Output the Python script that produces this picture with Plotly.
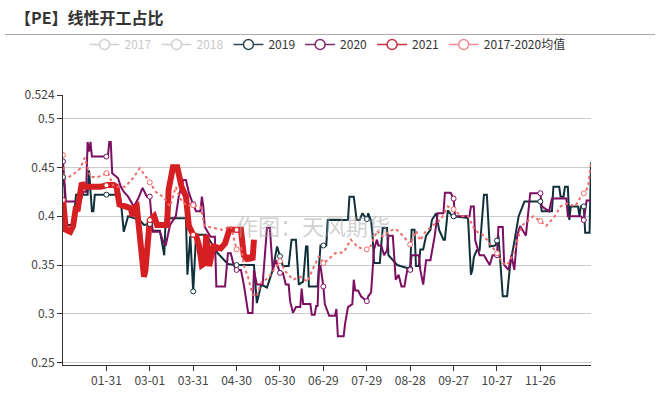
import numpy as np
import pandas as pd
import plotly.graph_objects as go

# ---- categories / ticks (leap-year calendar 01-01 .. 12-31) ----
BASE = pd.Timestamp("2020-01-01")
tick_labels = ["01-31", "03-01", "03-31", "04-30", "05-30", "06-29",
               "07-29", "08-28", "09-27", "10-27", "11-26"]
y_ticks = [0.25, 0.3, 0.35, 0.4, 0.45, 0.5, 0.524]
y_tick_text = ["0.25", "0.3", "0.35", "0.4", "0.45", "0.5", "0.524"]
marker_every = 30  # symbol shown every 30th category

# ---- series: day index (from 01-01) and value ----
day_2019 = [0, 1, 2, 7, 9, 17, 18, 20, 21, 22,
            39, 40, 42, 45, 53, 56, 60, 62, 67, 70,
            71, 85, 86, 88, 90, 92, 99, 102, 107, 114,
            119, 132, 134, 137, 141, 145, 148, 152, 156, 158,
            161, 163, 166, 168, 169, 170, 176, 178, 182, 183,
            197, 198, 201, 203, 205, 207, 210, 211, 213, 214,
            215, 219, 221, 224, 225, 228, 231, 240, 241, 243,
            244, 246, 247, 249, 251, 254, 255, 258, 260, 263,
            264, 266, 269, 280, 282, 283, 284, 286, 288, 291,
            293, 295, 299, 301, 304, 307, 309, 312, 315, 319,
            330, 331, 338, 339, 343, 344, 346, 347, 349, 350,
            351, 356, 357, 358, 360, 361, 364, 365]
val_2019 = [0.440, 0.430, 0.391, 0.391, 0.422, 0.422, 0.447, 0.405, 0.405, 0.422,
            0.422, 0.415, 0.384, 0.400, 0.396, 0.391, 0.392, 0.385, 0.385, 0.360,
            0.398, 0.398, 0.340, 0.380, 0.323, 0.381, 0.381, 0.374, 0.362, 0.351,
            0.350, 0.350, 0.311, 0.330, 0.327, 0.345, 0.369, 0.349, 0.349, 0.376,
            0.376, 0.330, 0.333, 0.369, 0.369, 0.328, 0.328, 0.370, 0.370, 0.396,
            0.396, 0.420, 0.420, 0.396, 0.396, 0.403, 0.397, 0.403, 0.395, 0.381,
            0.352, 0.352, 0.388, 0.388, 0.360, 0.355, 0.350, 0.346, 0.386, 0.386,
            0.349, 0.349, 0.366, 0.366, 0.380, 0.386, 0.396, 0.403, 0.386, 0.376,
            0.376, 0.406, 0.400, 0.398, 0.340, 0.345, 0.358, 0.365, 0.365, 0.422,
            0.422, 0.369, 0.370, 0.380, 0.318, 0.318, 0.349, 0.374, 0.400, 0.415,
            0.415, 0.405, 0.405, 0.430, 0.430, 0.420, 0.420, 0.430, 0.430, 0.396,
            0.410, 0.410, 0.400, 0.410, 0.410, 0.383, 0.383, 0.455]

day_2020 = [0, 1, 2, 12, 14, 16, 17, 18, 19, 20,
            31, 32, 33, 34, 38, 40, 42, 45, 49, 52,
            55, 58, 60, 62, 67, 69, 71, 74, 78, 80,
            83, 85, 87, 89, 92, 95, 96, 97, 98, 102,
            105, 106, 112, 114, 116, 118, 120, 123, 125, 128,
            131, 132, 134, 138, 141, 143, 145, 147, 150, 152,
            154, 156, 157, 159, 161, 164, 165, 166, 171, 172,
            174, 175, 176, 177, 178, 180, 181, 184, 188, 189,
            190, 194, 195, 197, 200, 201, 202, 204, 206, 210,
            211, 213, 215, 217, 218, 220, 222, 224, 225, 228,
            230, 232, 234, 236, 238, 240, 241, 246, 247, 249,
            251, 254, 257, 259, 263, 264, 268, 270, 271, 281,
            282, 284, 285, 288, 291, 293, 295, 297, 300, 301,
            304, 305, 308, 310, 312, 314, 316, 320, 322, 323,
            330, 331, 336, 338, 348, 349, 358, 360, 362, 365]
val_2020 = [0.456, 0.430, 0.415, 0.415, 0.425, 0.425, 0.476, 0.466, 0.476, 0.461,
            0.461, 0.476, 0.476, 0.444, 0.439, 0.430, 0.425, 0.420, 0.410, 0.418,
            0.429, 0.420, 0.420, 0.384, 0.384, 0.375, 0.370, 0.391, 0.400, 0.420,
            0.437, 0.437, 0.424, 0.416, 0.405, 0.405, 0.420, 0.410, 0.389, 0.379,
            0.379, 0.328, 0.328, 0.362, 0.362, 0.350, 0.345, 0.345, 0.330, 0.301,
            0.301, 0.345, 0.330, 0.330, 0.388, 0.388, 0.345, 0.355, 0.342, 0.342,
            0.330, 0.330, 0.313, 0.301, 0.307, 0.307, 0.326, 0.310, 0.310, 0.299,
            0.299, 0.308, 0.308, 0.349, 0.349, 0.328, 0.310, 0.298, 0.298, 0.305,
            0.277, 0.277, 0.290, 0.307, 0.310, 0.335, 0.324, 0.324, 0.318, 0.313,
            0.318, 0.322, 0.366, 0.376, 0.370, 0.370, 0.360, 0.365, 0.380, 0.380,
            0.335, 0.340, 0.328, 0.328, 0.345, 0.345, 0.360, 0.360, 0.345, 0.330,
            0.355, 0.355, 0.380, 0.403, 0.403, 0.424, 0.424, 0.418, 0.400, 0.400,
            0.410, 0.410, 0.375, 0.360, 0.360, 0.355, 0.350, 0.360, 0.360, 0.389,
            0.389, 0.350, 0.345, 0.360, 0.345, 0.380, 0.390, 0.380, 0.410, 0.4235,
            0.4235, 0.410, 0.405, 0.418, 0.418, 0.400, 0.400, 0.396, 0.416, 0.416]

day_2021 = [0, 1, 2, 5, 7, 9, 10, 11, 13, 15,
            26, 31, 35, 37, 39, 43, 47, 48, 49, 51,
            54, 56, 57, 59, 60, 63, 65, 72, 73, 76,
            79, 82, 85, 87, 90, 92, 94, 96, 98, 99,
            101, 104, 109, 112, 115, 123, 125, 128, 129, 131,
            132]
val_2021 = [0.4166, 0.400, 0.386, 0.384, 0.390, 0.410, 0.405, 0.415, 0.434, 0.430,
            0.430, 0.432, 0.432, 0.430, 0.412, 0.410, 0.408, 0.400, 0.408, 0.410,
            0.370, 0.338, 0.345, 0.390, 0.396, 0.400, 0.391, 0.391, 0.427, 0.450,
            0.450, 0.430, 0.420, 0.390, 0.381, 0.380, 0.370, 0.350, 0.352, 0.381,
            0.349, 0.369, 0.367, 0.372, 0.386, 0.386, 0.360, 0.355, 0.360, 0.355,
            0.376]

day_avg = [0, 1, 4, 9, 12, 15, 19, 24, 29, 31,
           35, 43, 49, 53, 59, 64, 69, 74, 78, 81,
           86, 89, 95, 98, 104, 110, 116, 120, 123, 125,
           128, 131, 134, 137, 142, 147, 150, 154, 159, 164,
           169, 173, 177, 180, 183, 188, 194, 199, 204, 210,
           213, 217, 221, 226, 230, 235, 240, 244, 247, 250,
           255, 261, 266, 270, 275, 280, 285, 291, 295, 300,
           304, 307, 311, 314, 317, 322, 325, 330, 334, 337,
           340, 344, 349, 354, 358, 361, 363, 365]
val_avg = [0.4626, 0.437, 0.440, 0.445, 0.449, 0.460, 0.440, 0.440, 0.443, 0.445,
           0.430, 0.430, 0.440, 0.449, 0.437, 0.425, 0.420, 0.410, 0.430, 0.418,
           0.410, 0.4115, 0.410, 0.390, 0.388, 0.386, 0.390, 0.366, 0.369, 0.350,
           0.337, 0.320, 0.318, 0.332, 0.337, 0.348, 0.354, 0.343, 0.335, 0.338,
           0.333, 0.347, 0.359, 0.352, 0.355, 0.362, 0.363, 0.376, 0.368, 0.366,
           0.370, 0.385, 0.379, 0.385, 0.387, 0.380, 0.371, 0.385, 0.375, 0.383,
           0.390, 0.396, 0.410, 0.407, 0.400, 0.400, 0.385, 0.380, 0.372, 0.362,
           0.352, 0.350, 0.360, 0.375, 0.390, 0.396, 0.400, 0.395, 0.390, 0.395,
           0.400, 0.410, 0.413, 0.410, 0.420, 0.425, 0.430, 0.455]

for d, v in [(day_2019, val_2019), (day_2020, val_2020), (day_2021, val_2021), (day_avg, val_avg)]:
    assert len(d) == len(v), (len(d), len(v))

FONT = "Microsoft YaHei, Noto Sans CJK SC, sans-serif"


def to_dates(days):
    return BASE + pd.to_timedelta(np.asarray(days), unit="D")


def symbol_points(days, vals):
    md = [d for d in range(0, 366, marker_every) if days[0] <= d <= days[-1]]
    return to_dates(md), np.interp(md, days, vals)


series = [
    # name, days, values, color, width, dash, legend color
    ("2019", day_2019, val_2019, "#10303a", 2, "solid", "#2f4550"),
    ("2020", day_2020, val_2020, "#7c0f62", 2, "solid", "#7e2c70"),
    ("2021", day_2021, val_2021, "#d61f22", 6, "solid", "#cc3340"),
    ("2017-2020均值", day_avg, val_avg, "#f06a6a", 2, "dot", "#f08a96"),
]

fig = go.Figure()

# legend entries (2017 / 2018 are deselected -> grey)
for nm in ["2017", "2018"]:
    fig.add_trace(go.Scatter(
        x=[None], y=[None], mode="lines+markers", name=f'<span style="color:#c8c8c8">{nm}</span>',
        line=dict(color="#cfcfcf", width=1.5),
        marker=dict(symbol="circle", size=10, color="white", line=dict(color="#cfcfcf", width=1.5)),
    ))
for nm, d, v, c, w, dash, lc in series:
    fig.add_trace(go.Scatter(
        x=[None], y=[None], mode="lines+markers", name=nm,
        line=dict(color=lc, width=1.5),
        marker=dict(symbol="circle", size=10, color="white", line=dict(color=lc, width=1.5)),
    ))

# data lines
for nm, d, v, c, w, dash, lc in series:
    fig.add_trace(go.Scatter(
        x=to_dates(d), y=v, mode="lines", showlegend=False, hoverinfo="skip",
        line=dict(color=c, width=w, dash=dash),
    ))

# periodic symbols
for nm, d, v, c, w, dash, lc in series:
    mx, my = symbol_points(d, v)
    fig.add_trace(go.Scatter(
        x=mx, y=my, mode="markers", showlegend=False, hoverinfo="skip",
        marker=dict(symbol="circle", size=5, color="white", line=dict(color=c, width=1)),
    ))

L, R, T, B = 63, 69, 95, 30
W, H = 660, 395
pw, ph = W - L - R, H - T - B

fig.update_layout(
    width=W, height=H, autosize=False,
    margin=dict(l=L, r=R, t=T, b=B),
    paper_bgcolor="white", plot_bgcolor="white",
    font=dict(family=FONT, size=12, color="#333"),
    title=dict(text="<b>【PE】线性开工占比</b>", x=15 / W, xref="container", xanchor="left",
               y=1 - 18.5 / H, yref="container", yanchor="middle",
               font=dict(family=FONT, size=16, color="#333")),
    legend=dict(orientation="h", xref="container", yref="container",
                x=327.5 / W, xanchor="center", y=1 - 44.5 / H, yanchor="middle",
                font=dict(family=FONT, size=12, color="#333"), itemwidth=30,
                bgcolor="rgba(0,0,0,0)", itemclick=False, itemdoubleclick=False),
    xaxis=dict(type="date", range=[BASE, BASE + pd.Timedelta(days=365)],
               tickvals=pd.to_datetime(["2020-" + t for t in tick_labels]), ticktext=tick_labels,
               showgrid=False, zeroline=False, showline=True, linecolor="#333", linewidth=1,
               ticks="outside", ticklen=5, tickcolor="#333", automargin=False,
               tickfont=dict(family=FONT, size=12, color="#444")),
    yaxis=dict(range=[0.2477, 0.524], tickvals=y_ticks, ticktext=y_tick_text,
               showgrid=True, gridcolor="#cccccc", gridwidth=1, zeroline=False,
               showline=True, linecolor="#333", linewidth=1, automargin=False,
               ticks="outside", ticklen=5, tickcolor="#333",
               tickfont=dict(family=FONT, size=12, color="#444")),
    shapes=[dict(type="line", xref="paper", yref="paper",
                 x0=(5 - L) / pw, x1=(655 - L) / pw,
                 y0=1 + (T - 34.5) / ph, y1=1 + (T - 34.5) / ph,
                 line=dict(color="#aaaaaa", width=1))],
    annotations=[dict(text="作图：天风期货", xref="paper", yref="paper",
                      x=(313 - L) / pw, y=1 - (225 - T) / ph, showarrow=False,
                      font=dict(family=FONT, size=22, color="rgba(170,170,170,0.55)"))],
)

fig.write_html("out.html", config={"displayModeBar": False},
               post_script="document.body.style.margin='0px';")
